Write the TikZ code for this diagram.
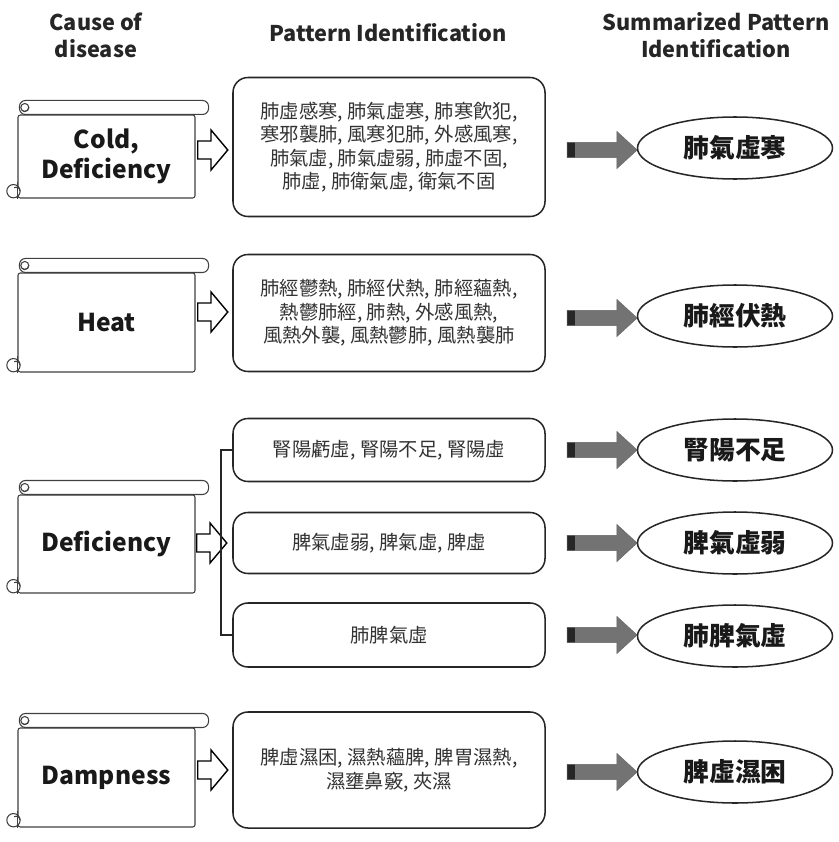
\documentclass[tikz,border=0pt]{standalone}
\usepackage{fontspec}
\setmainfont{Noto Sans CJK KR}
\usetikzlibrary{shapes.geometric,shapes.arrows}
\tikzset{
  scrollline/.style={draw=black!75, line width=0.9pt},
  causebox/.style={scrollline, fill=white, minimum width=5.31cm, rounded corners=2pt, font=\fontsize{21}{26}\selectfont\bfseries, align=center, text=black!90},
  patbox/.style={draw=black!85, line width=1.3pt, rounded corners=0.45cm, minimum width=9.36cm, font=\fontsize{16.5}{20}\selectfont, align=center, text=black!80},
  summary/.style={ellipse, draw=black!85, line width=1.3pt, minimum width=5.85cm, minimum height=1.86cm, inner sep=0pt, font=\fontsize{22}{26}\selectfont\bfseries, text=black!90},
  hollow/.style={single arrow, draw=black, line width=1.2pt, fill=white, minimum height=0.9cm, text height=0.25cm, text depth=0.25cm, text width=0pt, single arrow head extend=0.33cm, single arrow tip angle=100, inner sep=0pt},
  grayarrow/.style={single arrow, draw=black!60, fill=black!55, minimum height=2.1cm, text height=0.22cm, text depth=0.22cm, text width=0pt, single arrow head extend=0.33cm, single arrow tip angle=85, inner sep=0pt,
    path picture={\fill[black!85] (path picture bounding box.south west) rectangle ([xshift=0.24cm]path picture bounding box.north west);}},
  header/.style={font=\fontsize{18.5}{23}\selectfont\bfseries, align=center, text=black!85},
  bracketline/.style={draw=black!85, line width=1.2pt},
}
\begin{document}
\begin{tikzpicture}[x=0.03cm, y=-0.03cm]
            \useasboundingbox (0,0) rectangle (838,842);
            \node(hcause) at (96,35) [header] {Cause of\\disease};
            \node(hpat) at (388,33) [header] {Pattern Identification};
            \node(hsum) at (716,35) [header] {Summarized Pattern\\Identification};

            \node(cause1) at (106.5,156.5) [causebox, minimum height=2.49cm] {Cold,\\Deficiency};
            \node(cause2) at (106.5,322.5) [causebox, minimum height=2.97cm] {Heat};
            \node(cause3) at (106.5,544) [causebox, minimum height=2.94cm] {Deficiency};
            \node(cause4) at (106.5,777.5) [causebox, minimum height=2.97cm] {Dampness};
            \foreach \n in {cause1,cause2,cause3,cause4} {
                \draw[scrollline, fill=white, rounded corners=0.18cm] ([xshift=0.06cm]\n.north west) rectangle ([xshift=0.39cm,yshift=0.42cm]\n.north east);
                \draw[scrollline] ([xshift=0.22cm,yshift=0.21cm]\n.north west) circle (0.12cm);
                \draw[scrollline] ([xshift=0.34cm,yshift=0.21cm]\n.north west) arc (0:-120:0.12cm);
                \draw[scrollline, fill=white] ([xshift=-0.12cm,yshift=0.22cm]\n.south west) circle (0.2cm);
                \draw[scrollline] ([xshift=0.08cm,yshift=0.22cm]\n.south west) arc (0:120:0.12cm);
                \draw[scrollline] ([yshift=0.5cm]\n.south west) -- (\n.south west);
            }

            \node(harr1) at (209,150) [hollow] {};
            \node(harr2) at (209,312) [hollow] {};
            \node(harr3) at (208,543) [hollow] {};
            \node(harr4) at (209,770) [hollow] {};

            \node(pat1) at (389,147) [patbox, minimum height=4.17cm] {肺虛感寒, 肺氣虛寒, 肺寒飮犯,\\寒邪襲肺, 風寒犯肺, 外感風寒,\\肺氣虛, 肺氣虛弱, 肺虛不固,\\肺虛, 肺衛氣虛, 衛氣不固};
            \node(pat2) at (389,313) [patbox, minimum height=3.51cm] {肺經鬱熱, 肺經伏熱, 肺經蘊熱,\\熱鬱肺經, 肺熱, 外感風熱,\\風熱外襲, 風熱鬱肺, 風熱襲肺};
            \node(pat3a) at (389,450) [patbox, minimum height=1.89cm] {腎陽虧虛, 腎陽不足, 腎陽虛};
            \node(pat3b) at (389,543) [patbox, minimum height=1.83cm] {脾氣虛弱, 脾氣虛, 脾虛};
            \node(pat3c) at (389,635) [patbox, minimum height=1.92cm] {肺脾氣虛};
            \node(pat4) at (389,770) [patbox, minimum height=3.48cm] {脾虛濕困, 濕熱蘊脾, 脾胃濕熱,\\濕壅鼻竅, 夾濕};

            \coordinate(fork) at (221,543);
            \draw[bracketline] (pat3a.west) -| (fork) |- (pat3c.west);

            \node(garr1) at (598,150) [grayarrow] {};
            \node(garr2) at (598,318) [grayarrow] {};
            \node(garr3) at (598,450) [grayarrow] {};
            \node(garr4) at (598,543) [grayarrow] {};
            \node(garr5) at (598,635) [grayarrow] {};
            \node(garr6) at (598,772) [grayarrow] {};

            \node(sum1) at (735,148) [summary] {肺氣虛寒};
            \node(sum2) at (735,316) [summary] {肺經伏熱};
            \node(sum3) at (735,450) [summary] {腎陽不足};
            \node(sum4) at (735,543) [summary] {脾氣虛弱};
            \node(sum5) at (735,636) [summary] {肺脾氣虛};
            \node(sum6) at (735,772) [summary] {脾虛濕困};
        \end{tikzpicture}
\end{document}
